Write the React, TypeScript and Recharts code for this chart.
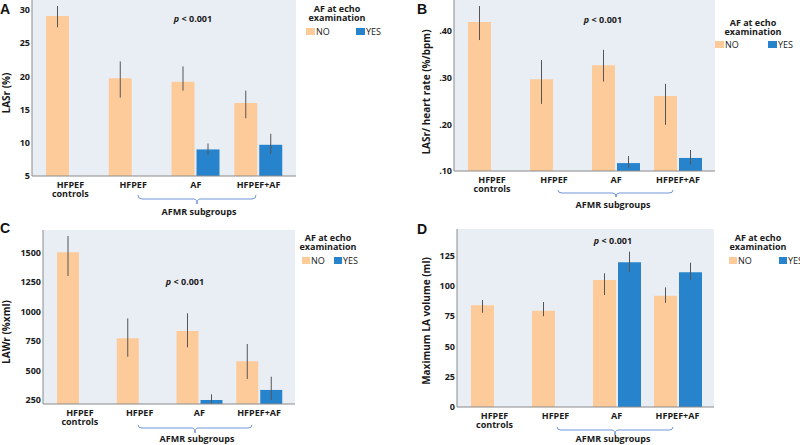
import React from 'react';
import { BarChart, Bar, XAxis, YAxis, CartesianGrid, ErrorBar } from 'recharts';

const FONT = '"Open Sans", "Noto Sans", sans-serif';
const ORANGE = '#FDCB9A';
const BLUE = '#2784CC';
const BG = '#E9EEF4';
const FS = 9;

const categories = ['HFPEF controls', 'HFPEF', 'AF', 'HFPEF+AF'];
const legendNames = ['NO', 'YES'];

// Panel A: LASr (%)
const lasrNo = [29.1, 19.7, 19.2, 16.0];
const lasrNoLow = [27.4, 16.8, 17.85, 13.7];
const lasrNoHigh = [30.6, 22.25, 21.5, 17.85];
const lasrYes = [null, null, 9.0, 9.7];
const lasrYesLow = [null, null, 8.15, 8.3];
const lasrYesHigh = [null, null, 9.9, 11.35];
const lasrTicks = [5, 10, 15, 20, 25, 30];

// Panel B: LASr / heart rate (%/bpm)
const lasrHrNo = [0.42, 0.297, 0.327, 0.261];
const lasrHrNoLow = [0.381, 0.244, 0.292, 0.199];
const lasrHrNoHigh = [0.454, 0.338, 0.36, 0.287];
const lasrHrYes = [null, null, 0.117, 0.128];
const lasrHrYesLow = [null, null, 0.107, 0.114];
const lasrHrYesHigh = [null, null, 0.132, 0.145];
const lasrHrTicks = [0.1, 0.2, 0.3, 0.4];

// Panel C: LAWr (%xml)
const lawrNo = [1500, 772, 834, 578];
const lawrNoLow = [1300, 616, 696, 428];
const lawrNoHigh = [1638, 941, 984, 724];
const lawrYes = [null, null, 250, 335];
const lawrYesLow = [null, null, 216, 250];
const lawrYesHigh = [null, null, 298, 447];
const lawrTicks = [250, 500, 750, 1000, 1250, 1500];

// Panel D: Maximum LA volume (ml)
const lavNo = [84, 79.5, 104.9, 91.9];
const lavNoLow = [77.8, 75, 92.5, 86];
const lavNoHigh = [88.3, 86.7, 110.4, 98.8];
const lavYes = [null, null, 119.5, 111.3];
const lavYesLow = [null, null, 111.3, 104.9];
const lavYesHigh = [null, null, 128.3, 119.2];
const lavTicks = [0, 25, 50, 75, 100, 125];

type N = number | null;
function buildRows(no: N[], noLow: N[], noHigh: N[], yes: N[], yesLow: N[], yesHigh: N[]) {
  return categories.map((name, i) => ({
    name,
    no: no[i],
    noErr: no[i] != null && noLow[i] != null ? [no[i]! - noLow[i]!, noHigh[i]! - no[i]!] : undefined,
    yes: yes[i],
    yesErr: yes[i] != null && yesLow[i] != null ? [yes[i]! - yesLow[i]!, yesHigh[i]! - yes[i]!] : undefined,
  }));
}

const XTick = (props: any) => {
  const { x, y, payload } = props;
  const lines = String(payload.value).split(' ');
  return (
    <text x={x} y={y} textAnchor="middle" fill="#1a1a1a" fontSize={FS} fontWeight={700} fontFamily={FONT}>
      {lines.map((l, i) => (
        <tspan key={i} x={x} dy={i === 0 ? 11.5 : 9.5}>{l}</tspan>
      ))}
    </text>
  );
};

type PanelCfg = {
  left: number; top: number; width: number; height: number;
  plotTop: number; plotBottom: number; axisX: number; plotRight: number;
  domain: [number, number]; ticks: number[]; fmt?: (v: number) => string;
  rows: any[];
  letter: string; letterX: number; letterY: number;
  yLabel: string; yLabelX: number; yLabelY: number;
  pX: number; pY: number;
  legCx: number; legY1: number; legY2: number; swY: number; noSwX: number; yesSwX: number; swW: number;
  brX1: number; brX2: number; brTop: number; brH: number; brCx: number; brTick: number; subCx: number; subY: number;
};

const Panel = ({ c }: { c: PanelCfg }) => {
  const textProps = { fontFamily: FONT, fill: '#1a1a1a' } as any;
  return (
    <div style={{ position: 'absolute', left: c.left, top: c.top, width: c.width, height: c.height }}>
      <BarChart
        width={c.width}
        height={c.height}
        data={c.rows}
        margin={{ top: c.plotTop, right: c.width - c.plotRight, bottom: 0, left: 0 }}
        barGap={2}
        barCategoryGap={7}
      >
        <CartesianGrid fill={BG} stroke="none" horizontal={false} vertical={false} />
        <XAxis
          dataKey="name"
          type="category"
          interval={0}
          padding={{ left: 7, right: 6 }}
          height={c.height - c.plotBottom}
          tickLine={false}
          tickSize={0}
          tickMargin={0}
          axisLine={{ stroke: '#8a8a8a' }}
          tick={<XTick />}
        />
        <YAxis
          type="number"
          domain={c.domain}
          ticks={c.ticks}
          allowDataOverflow
          width={c.axisX}
          tickLine={false}
          tickSize={0}
          tickMargin={2}
          axisLine={{ stroke: '#8a8a8a' }}
          tickFormatter={c.fmt}
          tick={{ fill: '#1a1a1a', fontSize: FS, fontWeight: 700, fontFamily: FONT }}
        />
        <Bar dataKey="no" name={legendNames[0]} fill={ORANGE} isAnimationActive={false}>
          <ErrorBar dataKey="noErr" width={0} stroke="#555" strokeWidth={1} isAnimationActive={false} />
        </Bar>
        <Bar dataKey="yes" name={legendNames[1]} fill={BLUE} isAnimationActive={false}>
          <ErrorBar dataKey="yesErr" width={0} stroke="#555" strokeWidth={1} isAnimationActive={false} />
        </Bar>
      </BarChart>
      <svg width={c.width} height={c.height} style={{ position: 'absolute', left: 0, top: 0, pointerEvents: 'none', overflow: 'hidden' }}>
        <text x={c.letterX} y={c.letterY} fontFamily='"Liberation Sans", Arial, sans-serif' fontWeight={700} fontSize={14} fill="#111">{c.letter}</text>
        <text
          transform={`translate(${c.yLabelX},${c.yLabelY}) rotate(-90)`}
          textAnchor="middle"
          dominantBaseline="central"
          fontSize={10}
          fontWeight={700}
          {...textProps}
        >{c.yLabel}</text>
        <text x={c.pX} y={c.pY} textAnchor="middle" fontSize={FS} fontWeight={700} {...textProps}>
          <tspan fontStyle="italic">p</tspan> {'< 0.001'}
        </text>
        <text x={c.legCx} y={c.legY1} textAnchor="middle" fontSize={FS} fontWeight={700} {...textProps}>AF at echo</text>
        <text x={c.legCx} y={c.legY2} textAnchor="middle" fontSize={FS} fontWeight={700} {...textProps}>examination</text>
        <rect x={c.noSwX} y={c.swY} width={c.swW} height={7} fill={ORANGE} />
        <text x={c.noSwX + c.swW + 1} y={c.swY + 7} fontSize={FS} {...textProps}>{legendNames[0]}</text>
        <rect x={c.yesSwX} y={c.swY} width={c.swW} height={7} fill={BLUE} />
        <text x={c.yesSwX + c.swW + 1} y={c.swY + 7} fontSize={FS} {...textProps}>{legendNames[1]}</text>
        <path
          d={`M${c.brX1},${c.brTop} Q${c.brX1},${c.brH} ${c.brX1 + 4},${c.brH} L${c.brCx - 3},${c.brH} Q${c.brCx},${c.brH} ${c.brCx},${c.brTick} Q${c.brCx},${c.brH} ${c.brCx + 3},${c.brH} L${c.brX2 - 4},${c.brH} Q${c.brX2},${c.brH} ${c.brX2},${c.brTop}`}
          fill="none"
          stroke="#6E95D6"
          strokeWidth={1}
        />
        <text x={c.subCx} y={c.subY} textAnchor="middle" fontSize={FS} fontWeight={700} {...textProps}>AFMR subgroups</text>
      </svg>
    </div>
  );
};

const fmtDec = (v: number) => v.toFixed(2).replace(/^0/, '');

const panels: PanelCfg[] = [
  {
    left: 0, top: 0, width: 400, height: 220,
    plotTop: 0, plotBottom: 176, axisX: 32, plotRight: 296,
    domain: [5, 31.5], ticks: lasrTicks,
    rows: buildRows(lasrNo, lasrNoLow, lasrNoHigh, lasrYes, lasrYesLow, lasrYesHigh),
    letter: 'A', letterX: 0, letterY: 14,
    yLabel: 'LASr (%)', yLabelX: 6, yLabelY: 93,
    pX: 193, pY: 22,
    legCx: 337, legY1: 11.5, legY2: 21, swY: 28, noSwX: 306, yesSwX: 356, swW: 9,
    brX1: 138, brX2: 256, brTop: 195, brH: 199, brCx: 197, brTick: 204, subCx: 199, subY: 214.5,
  },
  {
    left: 400, top: 0, width: 400, height: 220,
    plotTop: 0, plotBottom: 171, axisX: 54, plotRight: 315,
    domain: [0.1, 0.467], ticks: lasrHrTicks, fmt: fmtDec,
    rows: buildRows(lasrHrNo, lasrHrNoLow, lasrHrNoHigh, lasrHrYes, lasrHrYesLow, lasrHrYesHigh),
    letter: 'B', letterX: 17, letterY: 14,
    yLabel: 'LASr/ heart rate (%/bpm)', yLabelX: 26, yLabelY: 92,
    pX: 203, pY: 23,
    legCx: 353, legY1: 25.5, legY2: 35, swY: 41, noSwX: 315, yesSwX: 368, swW: 9,
    brX1: 158, brX2: 273, brTop: 190, brH: 193, brCx: 216, brTick: 197, subCx: 213, subY: 207.5,
  },
  {
    left: 0, top: 220, width: 400, height: 225,
    plotTop: 10, plotBottom: 184, axisX: 43, plotRight: 295,
    domain: [216, 1689], ticks: lawrTicks,
    rows: buildRows(lawrNo, lawrNoLow, lawrNoHigh, lawrYes, lawrYesLow, lawrYesHigh),
    letter: 'C', letterX: 0, letterY: 13,
    yLabel: 'LAWr (%xml)', yLabelX: 6, yLabelY: 112,
    pX: 185, pY: 65,
    legCx: 328, legY1: 20.5, legY2: 30, swY: 37, noSwX: 302, yesSwX: 334, swW: 8,
    brX1: 138, brX2: 252, brTop: 205, brH: 208, brCx: 195, brTick: 213, subCx: 197, subY: 222,
  },
  {
    left: 400, top: 220, width: 400, height: 225,
    plotTop: 9, plotBottom: 187, axisX: 57, plotRight: 314,
    domain: [0, 147], ticks: lavTicks,
    rows: buildRows(lavNo, lavNoLow, lavNoHigh, lavYes, lavYesLow, lavYesHigh),
    letter: 'D', letterX: 17, letterY: 14,
    yLabel: 'Maximum LA volume (ml)', yLabelX: 26, yLabelY: 101,
    pX: 213, pY: 24,
    legCx: 358, legY1: 20.5, legY2: 30, swY: 37, noSwX: 329, yesSwX: 379, swW: 8,
    brX1: 157, brX2: 273, brTop: 207, brH: 210, brCx: 215, brTick: 215, subCx: 213, subY: 222,
  },
];

export default function App() {
  return (
    <div style={{ position: 'absolute', left: 0, top: 0, width: 800, height: 445, background: '#fff', overflow: 'hidden' }}>
      {panels.map((p) => (
        <Panel key={p.letter} c={p} />
      ))}
    </div>
  );
}
